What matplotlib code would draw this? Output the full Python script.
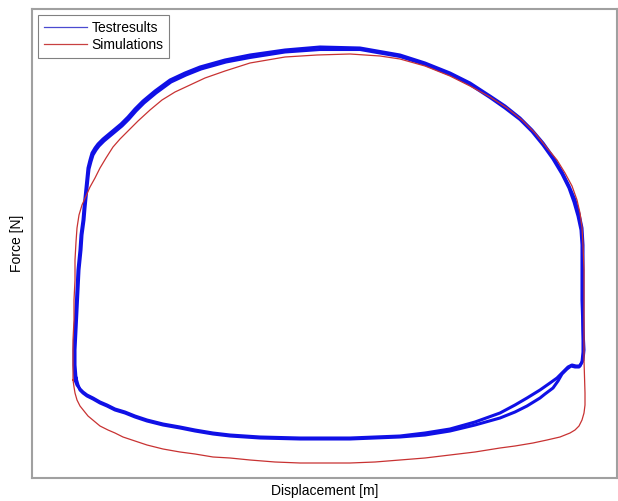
import matplotlib
matplotlib.use("Agg")
import matplotlib.pyplot as plt
from matplotlib.lines import Line2D

plt.rcParams['font.family'] = ['Liberation Sans', 'DejaVu Sans']

# Measured hysteresis loops: displacement [m], force [N]
test_cycle1_disp = [-0.0253, -0.0254, -0.0254, -0.0253, -0.0252, -0.0251, -0.0250, -0.0248,
                    -0.0247, -0.0245, -0.0244, -0.0243, -0.0242, -0.0241, -0.0240, -0.0238,
                    -0.0236, -0.0233, -0.0230, -0.0225, -0.0219, -0.0213, -0.0207, -0.0200,
                    -0.0193, -0.0185, -0.0173, -0.0158, -0.0143, -0.0128, -0.0103, -0.0078,
                    -0.0043, -0.0008, 0.0032, 0.0072, 0.0097, 0.0122, 0.0142, 0.0162,
                    0.0177, 0.0192, 0.0204, 0.0215, 0.0225, 0.0234, 0.0241, 0.0247,
                    0.0251, 0.0254, 0.0255, 0.0255, 0.0255, 0.0255, 0.0256, 0.0255,
                    0.0252, 0.0248, 0.0244, 0.0240, 0.0235, 0.0229, 0.0222, 0.0212,
                    0.0199, 0.0187, 0.0172, 0.0147, 0.0122, 0.0097, 0.0072, 0.0022,
                    -0.0028, -0.0068, -0.0098, -0.0115, -0.0133, -0.0148, -0.0165, -0.0181,
                    -0.0193, -0.0203, -0.0213, -0.0221, -0.0228, -0.0235, -0.0241, -0.0245,
                    -0.0248, -0.0251, -0.0253]
test_cycle1_force = [-1220, -1070, -920, -720, -520, -320, -120, 80,
                     230, 380, 500, 600, 700, 800, 900, 980,
                     1050, 1100, 1140, 1190, 1240, 1290, 1340, 1410,
                     1490, 1570, 1670, 1780, 1850, 1910, 1980, 2030,
                     2080, 2110, 2100, 2030, 1950, 1850, 1750, 1620,
                     1520, 1400, 1280, 1150, 1010, 860, 720, 580,
                     440, 300, 130, -120, -420, -720, -920, -1020,
                     -1080, -1080, -1070, -1090, -1140, -1200, -1250, -1320,
                     -1400, -1470, -1550, -1640, -1710, -1750, -1780, -1800,
                     -1800, -1790, -1770, -1750, -1720, -1690, -1660, -1620,
                     -1580, -1540, -1510, -1470, -1440, -1400, -1370, -1340,
                     -1310, -1270, -1220]

test_cycle2_disp = [-0.0252, -0.0253, -0.0253, -0.0252, -0.0251, -0.0250, -0.0249, -0.0247,
                    -0.0246, -0.0244, -0.0243, -0.0242, -0.0241, -0.0240, -0.0239, -0.0237,
                    -0.0235, -0.0232, -0.0229, -0.0224, -0.0218, -0.0212, -0.0206, -0.0199,
                    -0.0192, -0.0184, -0.0172, -0.0157, -0.0142, -0.0127, -0.0102, -0.0078,
                    -0.0043, -0.0008, 0.0032, 0.0072, 0.0097, 0.0122, 0.0142, 0.0162,
                    0.0177, 0.0192, 0.0204, 0.0215, 0.0225, 0.0234, 0.0241, 0.0246,
                    0.0250, 0.0253, 0.0254, 0.0254, 0.0254, 0.0255, 0.0255, 0.0254,
                    0.0251, 0.0247, 0.0243, 0.0239, 0.0234, 0.0230, 0.0225, 0.0217,
                    0.0212, 0.0199, 0.0187, 0.0172, 0.0147, 0.0122, 0.0097, 0.0072,
                    0.0022, -0.0028, -0.0068, -0.0098, -0.0115, -0.0133, -0.0148, -0.0165,
                    -0.0181, -0.0193, -0.0203, -0.0213, -0.0221, -0.0228, -0.0235, -0.0241,
                    -0.0245, -0.0248, -0.0250, -0.0252]
test_cycle2_force = [-1200, -1070, -920, -720, -520, -320, -120, 80,
                     230, 380, 500, 600, 700, 800, 890, 965,
                     1030, 1080, 1120, 1170, 1220, 1270, 1320, 1390,
                     1470, 1550, 1650, 1760, 1830, 1890, 1960, 2005,
                     2060, 2085, 2085, 2015, 1935, 1835, 1735, 1605,
                     1500, 1385, 1265, 1130, 990, 840, 700, 560,
                     420, 280, 130, -120, -420, -720, -940, -1040,
                     -1090, -1090, -1080, -1110, -1160, -1230, -1300, -1360,
                     -1400, -1480, -1540, -1600, -1670, -1730, -1770, -1790,
                     -1810, -1810, -1800, -1780, -1760, -1730, -1700, -1670,
                     -1630, -1590, -1550, -1520, -1480, -1450, -1410, -1380,
                     -1350, -1320, -1270, -1200]

sim_disp = [-0.0255, -0.0255, -0.0255, -0.0254, -0.0254, -0.0253, -0.0253, -0.0252,
            -0.0251, -0.0249, -0.0246, -0.0242, -0.0238, -0.0233, -0.0228, -0.0222,
            -0.0215, -0.0208, -0.0200, -0.0190, -0.0178, -0.0166, -0.0153, -0.0138,
            -0.0123, -0.0103, -0.0078, -0.0043, -0.0011, 0.0022, 0.0052, 0.0072,
            0.0097, 0.0122, 0.0142, 0.0162, 0.0179, 0.0194, 0.0207, 0.0219,
            0.0229, 0.0237, 0.0244, 0.0249, 0.0252, 0.0254, 0.0255, 0.0256,
            0.0256, 0.0256, 0.0256, 0.0257, 0.0257, 0.0256, 0.0254, 0.0251,
            0.0247, 0.0242, 0.0232, 0.0219, 0.0205, 0.0187, 0.0172, 0.0147,
            0.0122, 0.0097, 0.0072, 0.0047, 0.0022, -0.0003, -0.0028, -0.0053,
            -0.0078, -0.0098, -0.0115, -0.0133, -0.0148, -0.0165, -0.0181, -0.0193,
            -0.0205, -0.0213, -0.0220, -0.0228, -0.0234, -0.0240, -0.0244, -0.0248,
            -0.0251, -0.0253, -0.0254, -0.0255]
sim_force = [-1220, -1020, -820, -620, -420, -220, -20, 160,
             300, 430, 530, 620, 710, 800, 900, 1000,
             1110, 1190, 1270, 1370, 1480, 1580, 1660, 1730,
             1800, 1870, 1950, 2010, 2030, 2040, 2020, 1990,
             1920, 1820, 1720, 1610, 1500, 1380, 1250, 1100,
             980, 850, 720, 580, 450, 310, 130, -120,
             -420, -720, -1020, -1350, -1470, -1550, -1620, -1680,
             -1720, -1750, -1790, -1820, -1850, -1880, -1900, -1940,
             -1970, -2000, -2020, -2040, -2050, -2050, -2050, -2040,
             -2020, -2000, -1990, -1960, -1940, -1910, -1870, -1830,
             -1790, -1750, -1720, -1680, -1630, -1580, -1530, -1480,
             -1420, -1350, -1290, -1220]

W, H = 618, 501
fig = plt.figure(figsize=(W / 100, H / 100), dpi=100)
ax = fig.add_axes([32 / W, 1 - 478 / H, (617 - 32) / W, (478 - 9) / H])

blue = '#1010e6'
red = '#c83232'
ax.plot(test_cycle1_disp, test_cycle1_force, color=blue, lw=2.2, solid_joinstyle='round')
ax.plot(test_cycle2_disp, test_cycle2_force, color=blue, lw=2.2, solid_joinstyle='round')
ax.plot(sim_disp, sim_force, color=red, lw=0.9, zorder=3)

ax.set_xlim(-0.0296, 0.0289)
ax.set_ylim(-2200, 2490)
ax.set_xticks([])
ax.set_yticks([])
for s in ax.spines.values():
    s.set_color('#a0a0a0')
    s.set_linewidth(1.5)

ax.set_xlabel('Displacement [m]', fontsize=10, labelpad=4)
ax.set_ylabel('Force [N]', fontsize=10, labelpad=6)

handles = [Line2D([], [], color='#4a4ad0', lw=0.9),
           Line2D([], [], color='#c84040', lw=0.9)]
leg = ax.legend(handles, ['Testresults', 'Simulations'], loc='upper left',
                fontsize=10, frameon=True, fancybox=False, framealpha=1,
                edgecolor='#808080', handlelength=3.1, handletextpad=0.36,
                borderaxespad=0.43, borderpad=0.4, labelspacing=0.25)
leg.get_frame().set_linewidth(0.8)

fig.savefig('out.png', dpi=100)
